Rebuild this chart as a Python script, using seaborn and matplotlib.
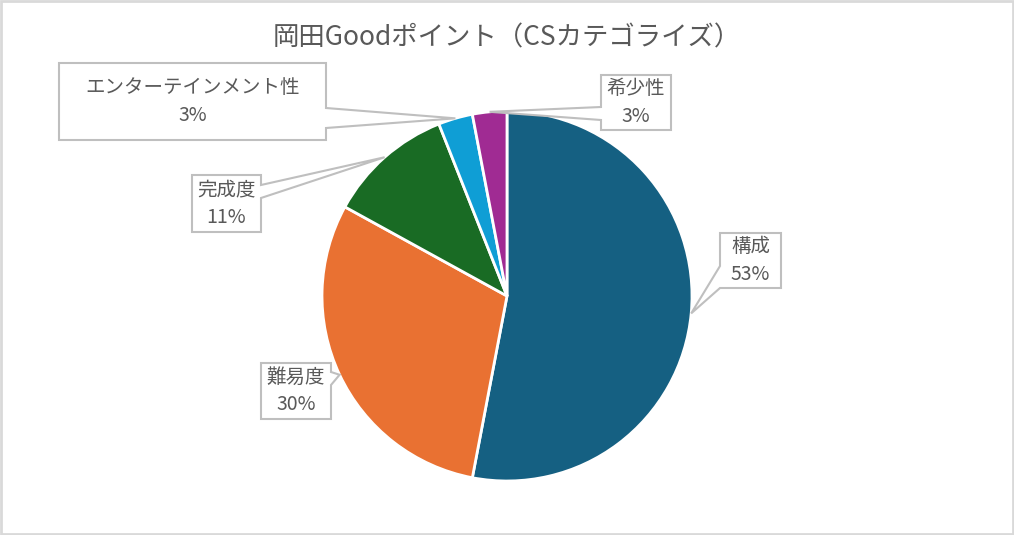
import numpy as np
import matplotlib.pyplot as plt
import seaborn as sns
from matplotlib.patches import Polygon, Rectangle

# --- data ---
categories = ['構成', '難易度', '完成度', 'エンターテインメント性', '希少性']
shares = [53, 30, 11, 3, 3]
colors = ['#156082', '#E97132', '#196B24', '#0F9ED5', '#A02B93']
title = '岡田Goodポイント（CSカテゴライズ）'

# callout boxes in pixel coords (x0, y0, x1, y1), side of the pointer, pointer base
boxes = {
    '構成': ((720, 233, 781, 288), 'left', (266, 288)),
    '難易度': ((261, 363, 331, 419), 'right', (372, 385)),
    '完成度': ((192, 175, 261, 232), 'right', (185, 198)),
    'エンターテインメント性': ((59, 63, 326, 140), 'right', (108, 128)),
    '希少性': ((601, 75, 671, 130), 'left', (107, 120)),
}

sns.set_theme(style='white')
plt.rcParams['font.family'] = ['Noto Sans CJK JP', 'DejaVu Sans']
text_col = '#595959'

W, H = 1014, 535
fig = plt.figure(figsize=(W / 100, H / 100), dpi=100)
ax = fig.add_axes([0, 0, 1, 1])

cx, cy, r = 507, 296, 185
ax.pie(shares, colors=colors, startangle=90, counterclock=False,
       center=(cx, H - cy), radius=r,
       wedgeprops=dict(edgecolor='white', linewidth=2))
ax.set_xlim(0, W)
ax.set_ylim(0, H)
ax.axis('off')

# callouts
cum = 0
for cat, v in zip(categories, shares):
    ang = np.deg2rad(90 - 360 * (cum + v / 2) / sum(shares))
    cum += v
    tip = (cx + r * np.cos(ang), cy - r * np.sin(ang))
    (x0, y0, x1, y1), side, (b1, b2) = boxes[cat]
    if side == 'right':
        pts = [(x0, y0), (x1, y0), (x1, b1), tip, (x1, b2), (x1, y1), (x0, y1)]
    else:
        pts = [(x0, y0), (x1, y0), (x1, y1), (x0, y1), (x0, b2), tip, (x0, b1)]
    pts = [(px, H - py) for px, py in pts]
    ax.add_patch(Polygon(pts, closed=True, facecolor='white', edgecolor='#bfbfbf',
                         linewidth=1.5, zorder=3))
    ax.text((x0 + x1) / 2, H - (y0 + y1) / 2, f'{cat}\n{v}%', ha='center', va='center',
            fontsize=14, color=text_col, linespacing=1.4, zorder=4)

ax.text(507, H - 38, title, ha='center', va='center', fontsize=19, color=text_col)

# outer chart border
ax.add_patch(Rectangle((1, 1), W - 2, H - 2, fill=False, edgecolor='#d9d9d9',
                       linewidth=2, clip_on=False))

fig.savefig('out.png', dpi=100)
